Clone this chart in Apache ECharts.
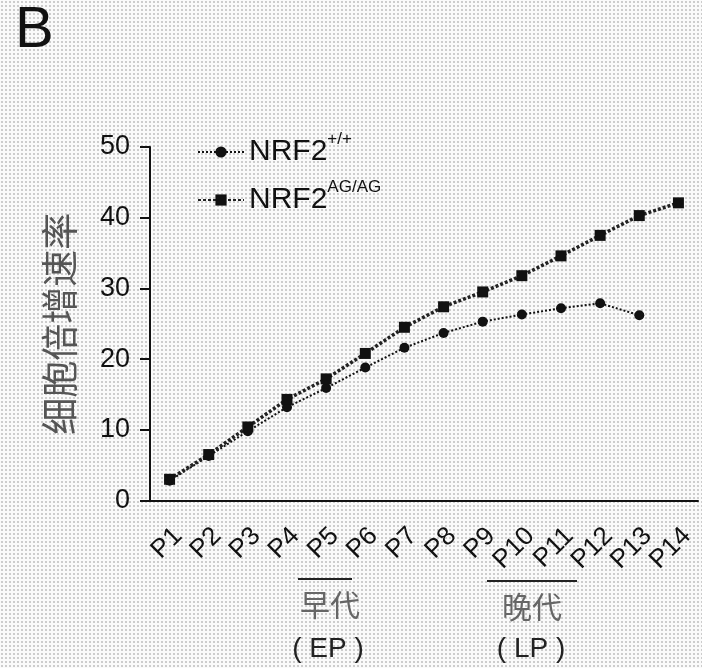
<!DOCTYPE html>
<html>
<head>
<meta charset="utf-8">
<script src="https://cdn.jsdelivr.net/npm/echarts@6/dist/echarts.min.js"></script>
<style type="text/css">
    body {margin:0px;padding:0px;overflow:hidden;
          background-color:#fafafa;
          background-image:radial-gradient(circle, #b4b4b4 0.6px, transparent 0.9px);
          background-size:4px 4px;}
    #main {height:668px;width:702px;position:absolute;}
</style>
</head>
<body>
<div id="main"></div>
<script type="text/javascript">
    // 传代数据
    let passages = ['P1','P2','P3','P4','P5','P6','P7','P8','P9','P10','P11','P12','P13','P14'];
    let wildType = [2.8, 6.3, 9.8, 13.2, 15.9, 18.8, 21.6, 23.7, 25.3, 26.3, 27.2, 27.9, 26.2, null];
    let mutant = [3.0, 6.5, 10.4, 14.3, 17.2, 20.8, 24.5, 27.4, 29.5, 31.8, 34.6, 37.5, 40.3, 42.1];
    let yTicks = {min:0, max:50, interval:10};

    let myChart = echarts.init(document.getElementById('main'));
    let font = 'Liberation Sans, Arial, sans-serif';
    let cjk = 'Noto Sans CJK SC';

    let legendRich = {
        a: {fontSize:30, fontFamily:font, color:'#111', lineHeight:42},
        b: {fontSize:17, fontFamily:font, color:'#111', lineHeight:17, verticalAlign:'top'}
    };

    let option = {
        animation: false,
        backgroundColor: 'transparent',
        grid: {left:150, right:4, top:147, bottom:167.5, containLabel:false},
        legend: {
            orient: 'vertical',
            left: 197, top: 131,
            padding: 0,
            itemGap: 12,
            itemWidth: 46, itemHeight: 14,
            data: ['wt','ag'],
            formatter: function(name){
                return name === 'wt' ? '{a|NRF2}{b|+/+}' : '{a|NRF2}{b|AG/AG}';
            },
            textStyle: {rich: legendRich}
        },
        xAxis: {
            type: 'category',
            data: passages,
            axisLine: {lineStyle:{color:'#111', width:2}},
            axisTick: {alignWithLabel:true, length:12, lineStyle:{color:'#111', width:2}},
            axisLabel: {rotate:45, fontSize:26, fontFamily:font, color:'#111', margin:40,
                        padding:[0,-12,0,0], interval:0}
        },
        yAxis: {
            type: 'value',
            min: yTicks.min, max: yTicks.max, interval: yTicks.interval,
            name: '细胞倍增速率',
            nameLocation: 'middle',
            nameGap: 72,
            nameTextStyle: {fontSize:37, fontFamily:cjk, color:'#555'},
            splitLine: {show:false},
            axisLine: {show:true, lineStyle:{color:'#111', width:2}},
            axisTick: {show:true, length:10, lineStyle:{color:'#111', width:2}},
            axisLabel: {fontSize:27, fontFamily:font, color:'#111', margin:20}
        },
        series: [
            {
                name: 'wt', type: 'line', data: wildType,
                symbol: 'circle', symbolSize: 10,
                itemStyle: {color:'#111'},
                lineStyle: {color:'#111', width:2, type:'dotted'}
            },
            {
                name: 'ag', type: 'line', data: mutant,
                symbol: 'rect', symbolSize: 11,
                itemStyle: {color:'#111'},
                lineStyle: {color:'#222', width:3.5, type:[3,2]}
            }
        ],
        graphic: [
            {type:'text', left:15, top:2, style:{text:'B', fontSize:58, fontFamily:font, fill:'#111'}},
            {type:'line', shape:{x1:298, y1:579, x2:352, y2:579}, style:{stroke:'#222', lineWidth:2}},
            {type:'text', x:330, y:605, style:{text:'早代', fontSize:30, fontFamily:cjk, fill:'#666', align:'center', verticalAlign:'middle'}},
            {type:'text', x:328, y:649, style:{text:'( EP )', fontSize:28, fontFamily:font, fill:'#222', align:'center', verticalAlign:'middle'}},
            {type:'line', shape:{x1:487, y1:581, x2:577, y2:581}, style:{stroke:'#222', lineWidth:2}},
            {type:'text', x:532, y:607, style:{text:'晚代', fontSize:30, fontFamily:cjk, fill:'#666', align:'center', verticalAlign:'middle'}},
            {type:'text', x:531, y:649, style:{text:'( LP )', fontSize:28, fontFamily:font, fill:'#222', align:'center', verticalAlign:'middle'}}
        ]
    };
    myChart.setOption(option);
    window.onresize = myChart.resize;
</script>
</body>
</html>
